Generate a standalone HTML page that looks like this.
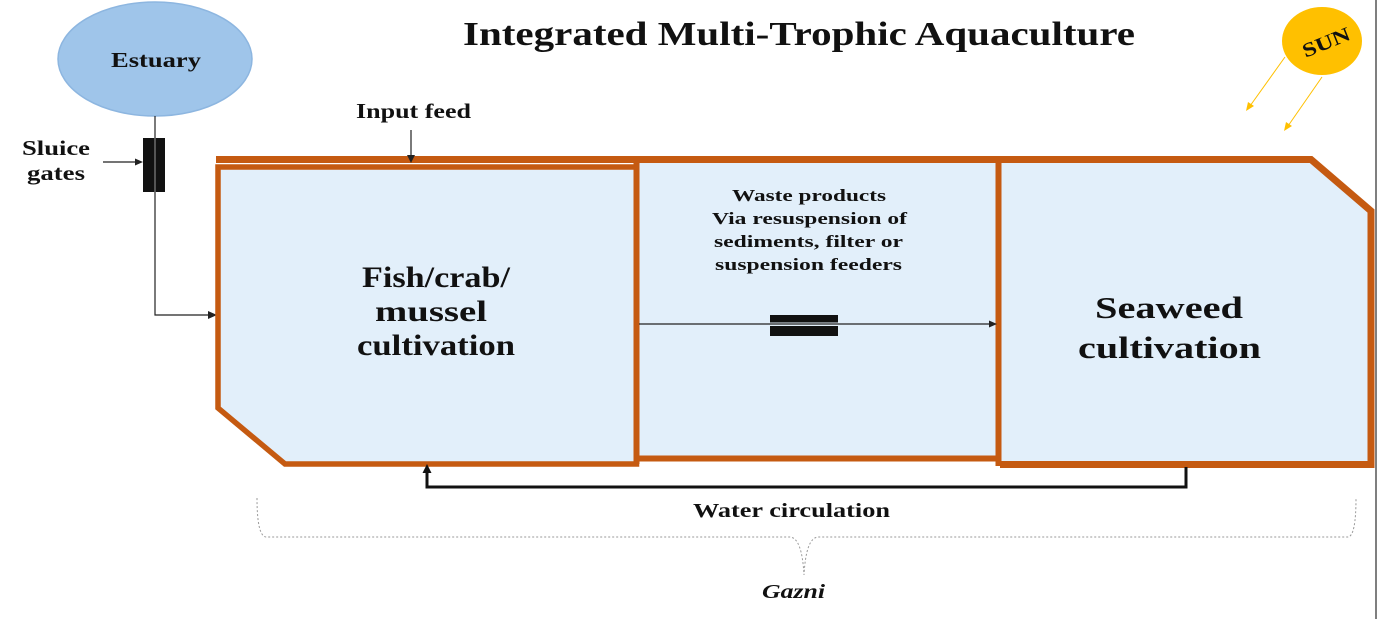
<!DOCTYPE html>
<html>
<head>
<meta charset="utf-8">
<style>
  html,body{margin:0;padding:0;background:#fff;}
  body{width:1378px;height:619px;overflow:hidden;}
  svg{display:block;}
  text{font-family:"Liberation Serif","Times New Roman",serif;font-weight:bold;fill:#111;}
</style>
</head>
<body>
<svg width="1378" height="619" viewBox="0 0 1378 619" xmlns="http://www.w3.org/2000/svg">
  <rect x="0" y="0" width="1378" height="619" fill="#ffffff"/>

  <!-- right edge artifact line -->
  <line x1="1376" y1="0" x2="1376" y2="619" stroke="#555" stroke-width="1.5"/>

  <!-- Title -->
  <text x="463" y="45" font-size="34" textLength="672" lengthAdjust="spacingAndGlyphs">Integrated Multi-Trophic Aquaculture</text>

  <!-- Sun -->
  <ellipse cx="1322" cy="41" rx="40" ry="34" fill="#ffc000"/>
  <text x="1326" y="49" font-size="20" text-anchor="middle" transform="rotate(-22 1326 42)" textLength="50" lengthAdjust="spacingAndGlyphs">SUN</text>
  <line x1="1285" y1="57" x2="1250" y2="106" stroke="#ffc000" stroke-width="1"/>
  <polygon points="1246,111 1248,102 1254,106" fill="#ffc000"/>
  <line x1="1322" y1="77" x2="1288" y2="126" stroke="#ffc000" stroke-width="1"/>
  <polygon points="1284,131 1286,122 1292,126" fill="#ffc000"/>

  <!-- Estuary -->
  <ellipse cx="155" cy="59" rx="97" ry="57" fill="#9fc5ea" stroke="#8db6e0" stroke-width="1.5"/>
  <text x="111" y="67" font-size="21" textLength="90" lengthAdjust="spacingAndGlyphs">Estuary</text>

  <!-- connector from estuary -->
  <polyline points="155,116 155,315 210,315" fill="none" stroke="#222" stroke-width="1.2"/>
  <polygon points="217,315 208,311 208,319" fill="#222"/>

  <!-- Sluice gate -->
  <rect x="143" y="138" width="22" height="54" fill="#111"/>
  <line x1="155" y1="138" x2="155" y2="192" stroke="#999" stroke-width="1"/>
  <line x1="103" y1="162" x2="137" y2="162" stroke="#222" stroke-width="1.2"/>
  <polygon points="143,162 135,158.5 135,165.5" fill="#222"/>
  <text x="22" y="155" font-size="21" textLength="68" lengthAdjust="spacingAndGlyphs">Sluice</text>
  <text x="27" y="180" font-size="21" textLength="58" lengthAdjust="spacingAndGlyphs">gates</text>

  <!-- Input feed label -->
  <text x="356" y="118" font-size="21" textLength="115" lengthAdjust="spacingAndGlyphs">Input feed</text>

  <!-- Fills -->
  <polygon points="218,166 636,166 636,464 285,464 218,408" fill="#e2effa"/>
  <rect x="637" y="160" width="363" height="298" fill="#e2effa"/>
  <polygon points="1000,160 1311,160 1371,211 1371,464 1000,464" fill="#e2effa"/>

  <!-- Outer frame -->
  <path d="M216,159.5 H1311 L1371,211 V464.5 H1000" fill="none" stroke="#c55a11" stroke-width="7" stroke-linejoin="miter"/>
  <!-- Left box -->
  <polygon points="218,167 636.5,167 636.5,464 285,464 218,408" fill="none" stroke="#c55a11" stroke-width="5.5"/>
  <!-- Middle box -->
  <line x1="636.5" y1="160" x2="636.5" y2="464" stroke="#c55a11" stroke-width="6"/>
  <line x1="636" y1="458.5" x2="1000" y2="458.5" stroke="#c55a11" stroke-width="6"/>
  <!-- Right box left edge -->
  <line x1="998.5" y1="160" x2="998.5" y2="466" stroke="#c55a11" stroke-width="6"/>

  <!-- Input feed arrow (on top of frame) -->
  <line x1="411" y1="130" x2="411" y2="157" stroke="#222" stroke-width="1.2"/>
  <polygon points="411,163 407,155 415,155" fill="#222"/>

  <!-- Left box text -->
  <text x="362" y="287" font-size="30" textLength="148" lengthAdjust="spacingAndGlyphs">Fish/crab/</text>
  <text x="375" y="321" font-size="30" textLength="112" lengthAdjust="spacingAndGlyphs">mussel</text>
  <text x="357" y="355" font-size="30" textLength="158" lengthAdjust="spacingAndGlyphs">cultivation</text>

  <!-- Middle text -->
  <text x="732" y="201" font-size="16.5" textLength="154" lengthAdjust="spacingAndGlyphs">Waste products</text>
  <text x="712" y="224" font-size="16.5" textLength="195" lengthAdjust="spacingAndGlyphs">Via resuspension of</text>
  <text x="714" y="247" font-size="16.5" textLength="189" lengthAdjust="spacingAndGlyphs">sediments, filter or</text>
  <text x="715" y="270" font-size="16.5" textLength="187" lengthAdjust="spacingAndGlyphs">suspension feeders</text>

  <!-- Middle arrow and bars -->
  <line x1="639" y1="324" x2="990" y2="324" stroke="#222" stroke-width="1.2"/>
  <polygon points="997,324 989,320.5 989,327.5" fill="#222"/>
  <rect x="770" y="315" width="68" height="7.5" fill="#111"/>
  <rect x="770" y="326" width="68" height="10" fill="#111"/>

  <!-- Right box text -->
  <text x="1095" y="318" font-size="31" textLength="148" lengthAdjust="spacingAndGlyphs">Seaweed</text>
  <text x="1078" y="358" font-size="31" textLength="183" lengthAdjust="spacingAndGlyphs">cultivation</text>

  <!-- Water circulation -->
  <polyline points="1186,467 1186,487 427,487 427,471" fill="none" stroke="#111" stroke-width="3"/>
  <polygon points="427,464 422.5,473 431.5,473" fill="#111"/>
  <text x="693" y="517" font-size="20" textLength="197" lengthAdjust="spacingAndGlyphs">Water circulation</text>

  <!-- Brace -->
  <path d="M257,498 Q257,536 266,537 H790 Q802,538 804,575 Q806,538 818,537 H1348 Q1356,536 1356,498" fill="none" stroke="#9a9a9a" stroke-width="1" stroke-dasharray="2,2"/>
  <text x="762" y="598" font-size="20" font-style="italic" textLength="63" lengthAdjust="spacingAndGlyphs">Gazni</text>
</svg>
</body>
</html>
